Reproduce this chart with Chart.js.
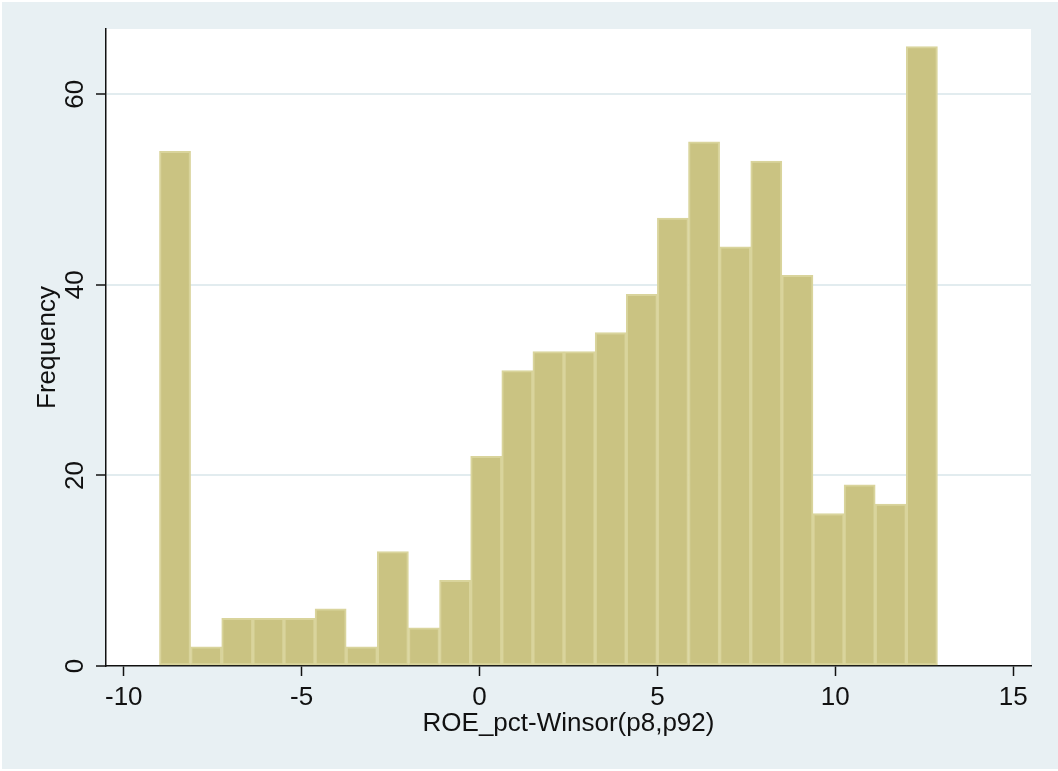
<!DOCTYPE html>
<html>
<head>
<meta charset="utf-8">
<title>ROE histogram</title>
<script src="https://cdn.jsdelivr.net/npm/chart.js@4/dist/chart.umd.min.js"></script>
<style>
  html, body { margin: 0; padding: 0; background: #ffffff; }
  canvas { display: block; }
</style>
</head>
<body>
<canvas id="hist" width="1058" height="771"></canvas>
<script>
// Histogram of winsorized ROE: 25 equal-width bins
const binLower = -8.997;
const binWidth = 0.8747;
const frequencies = [54, 2, 5, 5, 5, 6, 2, 12, 4, 9, 22, 31, 33, 33, 35, 39, 47, 55, 44, 53, 41, 16, 19, 17, 65];

const xTickValues = [-10, -5, 0, 5, 10, 15];
const yTickValues = [0, 20, 40, 60];

const xTitle = 'ROE_pct-Winsor(p8,p92)';
const yTitle = 'Frequency';

const binCenters = frequencies.map((_, i) => binLower + (i + 0.5) * binWidth);
const points = frequencies.map((f, i) => ({ x: binCenters[i], y: f }));

const FONT = 'Liberation Sans, Arial, Helvetica, sans-serif';
const OUTER_BG = '#e8f0f3';
const GRID = '#e2ecef';
const INK = '#111111';

// Paints the outer graph region and the white plot region behind everything
const regionPaint = {
  id: 'regionPaint',
  beforeDraw(chart) {
    const { ctx, chartArea: a } = chart;
    ctx.save();
    ctx.fillStyle = '#ffffff';
    ctx.fillRect(0, 0, chart.width, chart.height);
    ctx.fillStyle = OUTER_BG;
    ctx.fillRect(2, 2, chart.width - 2, chart.height - 4);
    ctx.fillStyle = '#ffffff';
    ctx.fillRect(a.left, a.top, a.right - a.left, a.bottom - a.top);
    ctx.restore();
  }
};

new Chart(document.getElementById('hist'), {
  type: 'bar',
  data: {
    datasets: [{
      label: yTitle,
      data: points,
      backgroundColor: 'rgb(202,195,130)',
      borderColor: 'rgb(217,212,156)',
      borderWidth: 2,
      borderSkipped: false,
      barPercentage: 1,
      categoryPercentage: 1
    }]
  },
  options: {
    responsive: false,
    animation: false,
    events: [],
    layout: { padding: { top: 29, right: 27, left: 0, bottom: 0 } },
    plugins: {
      legend: { display: false },
      tooltip: { enabled: false }
    },
    scales: {
      x: {
        type: 'linear',
        min: -10.5,
        max: 15.5,
        offset: false,
        afterBuildTicks(scale) { scale.ticks = xTickValues.map(v => ({ value: v })); },
        afterFit(scale) { scale.height = 105; },
        grid: {
          offset: false,
          drawOnChartArea: false,
          drawTicks: true,
          tickLength: 10,
          tickColor: INK,
          tickWidth: 1.5
        },
        border: { display: true, color: INK, width: 1.5 },
        ticks: {
          color: INK,
          padding: 6,
          maxRotation: 0,
          autoSkip: false,
          font: { family: FONT, size: 26 },
          callback: v => String(v)
        },
        title: {
          display: true,
          text: xTitle,
          color: INK,
          font: { family: FONT, size: 26 },
          padding: { top: 0, bottom: 32 }
        }
      },
      y: {
        type: 'linear',
        min: 0,
        max: 66.85,
        afterBuildTicks(scale) { scale.ticks = yTickValues.map(v => ({ value: v })); },
        afterFit(scale) { scale.width = 106; },
        grid: {
          drawOnChartArea: true,
          drawTicks: true,
          tickLength: 10,
          color: ctx => (ctx.tick && ctx.tick.value === 0 ? 'rgba(0,0,0,0)' : GRID),
          lineWidth: 2,
          tickColor: INK,
          tickWidth: 1.5
        },
        border: { display: true, color: INK, width: 1.5 },
        ticks: {
          color: INK,
          padding: 6,
          minRotation: 90,
          maxRotation: 90,
          crossAlign: 'center',
          autoSkip: false,
          font: { family: FONT, size: 26 },
          callback: v => String(v)
        },
        title: {
          display: true,
          text: yTitle,
          color: INK,
          font: { family: FONT, size: 26 },
          padding: { top: 32, bottom: 0 }
        }
      }
    }
  },
  plugins: [regionPaint]
});
</script>
</body>
</html>
